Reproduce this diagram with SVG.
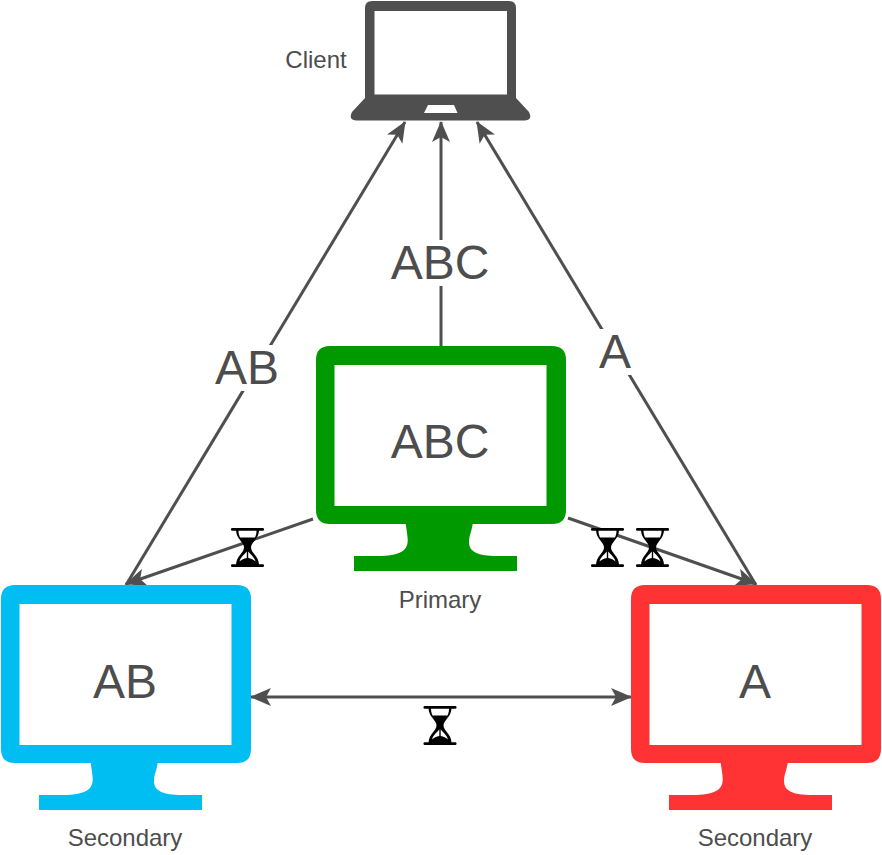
<svg xmlns="http://www.w3.org/2000/svg" width="882" height="855" viewBox="0 0 882 855">
  <style>
    text { font-family: "Liberation Sans", Arial, sans-serif; fill: #4d4d4d; text-anchor: middle; }
    .big { font-size: 48px; }
    .small { font-size: 24px; }
    .link { fill: none; stroke: #4f4f4f; stroke-width: 3; }
    .halo { fill: #ffffff; }
  </style>
  <defs>
    <marker id="head" viewBox="0 0 22 18" refX="21" refY="9" markerWidth="22" markerHeight="18" markerUnits="userSpaceOnUse" orient="auto-start-reverse">
      <path d="M22 9 L1 0 L6 9 L1 18 Z" fill="#4f4f4f"/>
    </marker>
    <symbol id="monitor" viewBox="0 0 250 226" width="250" height="226" overflow="visible">
      <path fill-rule="evenodd" d="M14 0 H236 Q250 0 250 14 V164 Q250 178 236 178 H156.700 C155.500 186 153 190 153 196 C153 206 162 210 181 210 H201 V225 H38 V210 H58 C80 210 92 207 91.700 194 C91.500 188 90.500 184 89.700 178 H14 Q0 178 0 164 V14 Q0 0 14 0 Z M18.500 19 V160 H230.500 V19 Z"/>
    </symbol>
    <symbol id="hourglass" viewBox="0 0 33 39" width="33" height="39" overflow="visible">
      <rect x="0" y="0" width="33" height="2.800" rx="1.200" fill="#000"/>
      <rect x="0" y="36.200" width="33" height="2.800" rx="1.200" fill="#000"/>
      <path d="M5 2 C5 11 13 14 13 19.500 C13 25 5 28 5 37 H28 C28 28 20 25 20 19.500 C20 14 28 11 28 2 Z" fill="#000"/>
      <path d="M7.500 2.800 H25.500 C25.500 5 25 7.500 24 9.500 H9 C8 7.500 7.500 5 7.500 2.800 Z" fill="#fff"/>
      <path d="M15.800 23.500 V30 C13 30.500 10.500 31.500 8.500 33.500 C9.500 29 13.500 26.500 15.800 23.500 Z M17.200 23.500 C19.500 26.500 23.500 29 24.500 33.500 C22.500 31.500 20 30.500 17.200 30 Z" fill="#fff"/>
    </symbol>
  </defs>

  <g id="connectors">
    <path class="link" d="M441 346 V122" marker-end="url(#head)"/>
    <path class="link" d="M126 585 L405 122" marker-end="url(#head)"/>
    <path class="link" d="M756 585 L477 122" marker-end="url(#head)"/>
    <path class="link" d="M313 519 L126 584" marker-end="url(#head)"/>
    <path class="link" d="M568 518 L756 584" marker-end="url(#head)"/>
    <path class="link" d="M251 697 H631" marker-start="url(#head)" marker-end="url(#head)"/>
  </g>

  <g id="connector-labels">
    <rect class="halo" x="389" y="240" width="102" height="46"/>
    <text class="big" x="440" y="279">ABC</text>
    <rect class="halo" x="214" y="345" width="66" height="46"/>
    <text class="big" x="247" y="384">AB</text>
    <rect class="halo" x="597" y="329" width="36" height="46"/>
    <text class="big" x="615" y="368">A</text>
  </g>

  <g id="client">
    <path fill="#4f4f4f" fill-rule="evenodd" d="M372 1 H509 Q516 1 516 8 V98 L529 112 Q533 120 525 120.500 H356 Q348 120 352 112 L365 98 V8 Q365 1 372 1 Z M374.500 11 V94.500 H507 V11 Z M428 105 L424 113 H457.500 L454 105 Z"/>
    <text class="small" x="316" y="68">Client</text>
  </g>

  <g id="primary">
    <use href="#monitor" x="316" y="346" fill="#009900"/>
    <text class="big" x="440" y="458">ABC</text>
    <text class="small" x="440" y="608">Primary</text>
  </g>

  <g id="secondary-ab">
    <use href="#monitor" x="1" y="585" fill="#00bef2"/>
    <text class="big" x="125" y="698">AB</text>
    <text class="small" x="125" y="846">Secondary</text>
  </g>

  <g id="secondary-a">
    <use href="#monitor" x="631" y="585" fill="#ff3333"/>
    <text class="big" x="755" y="698">A</text>
    <text class="small" x="755" y="846">Secondary</text>
  </g>

  <g id="delays">
    <use href="#hourglass" x="231" y="528"/>
    <use href="#hourglass" x="591" y="528"/>
    <use href="#hourglass" x="636" y="528"/>
    <use href="#hourglass" x="423.500" y="706"/>
  </g>
</svg>
